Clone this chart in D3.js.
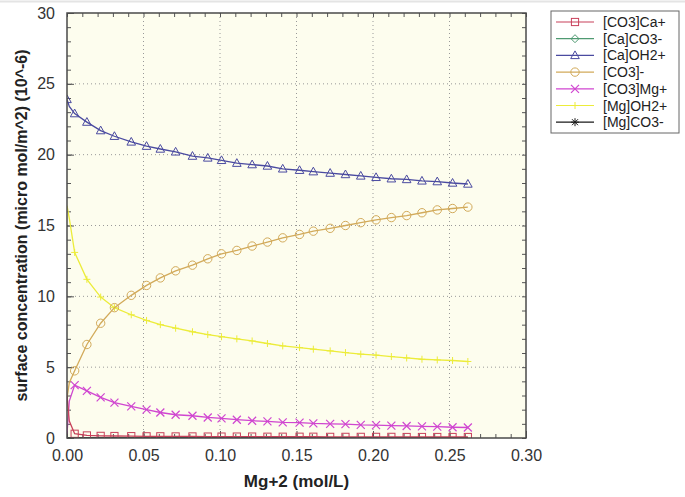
<!DOCTYPE html>
<html>
<head>
<meta charset="utf-8">
<script src="https://cdn.jsdelivr.net/npm/d3@7"></script>
<style>
  body { margin: 0; background: #fff; }
  svg { display: block; font-family: Arial, "Liberation Sans", sans-serif; }
</style>
</head>
<body>
<svg id="chart" width="685" height="497"></svg>
<script>
// Mg+2 concentration (mol/L); first two points are the unmarked start of each curve
var xs = [0, 0.0015, 0.005, 0.013, 0.022, 0.031, 0.042, 0.052, 0.061, 0.071, 0.082, 0.092, 0.101, 0.111,
          0.121, 0.131, 0.141, 0.152, 0.161, 0.172, 0.182, 0.192, 0.202, 0.212, 0.222, 0.232, 0.242, 0.252, 0.262];

var names = ["[CO3]Ca+", "[Ca]CO3-", "[Ca]OH2+", "[CO3]-", "[CO3]Mg+", "[Mg]OH2+", "[Mg]CO3-"];

var co3Ca  = [3.0, 1.2, 0.3, 0.18, 0.15, 0.14, 0.13, 0.12, 0.12, 0.11, 0.11, 0.1, 0.1, 0.1,
              0.1, 0.09, 0.09, 0.09, 0.09, 0.08, 0.08, 0.08, 0.08, 0.08, 0.07, 0.07, 0.07, 0.07, 0.07];
var caCo3  = [0, 0, 0, 0, 0, 0, 0, 0, 0, 0, 0, 0, 0, 0, 0, 0, 0, 0, 0, 0, 0, 0, 0, 0, 0, 0, 0, 0, 0];
var caOh2  = [23.9, 23.4, 22.9, 22.3, 21.7, 21.3, 20.9, 20.6, 20.4, 20.2, 19.9, 19.77, 19.6, 19.4,
              19.3, 19.2, 19.0, 18.9, 18.8, 18.7, 18.6, 18.5, 18.4, 18.3, 18.25, 18.15, 18.1, 18.0, 17.93];
var co3    = [2.8, 3.9, 4.74, 6.6, 8.1, 9.2, 10.07, 10.77, 11.3, 11.8, 12.2, 12.65, 13.0, 13.24,
              13.55, 13.83, 14.13, 14.37, 14.6, 14.8, 15.0, 15.2, 15.4, 15.56, 15.7, 15.9, 16.1, 16.2, 16.3];
var co3Mg  = [0.3, 2.6, 3.73, 3.33, 2.87, 2.5, 2.23, 2.0, 1.8, 1.64, 1.57, 1.45, 1.38, 1.29,
              1.22, 1.17, 1.1, 1.08, 1.03, 1.0, 0.98, 0.93, 0.91, 0.87, 0.85, 0.82, 0.8, 0.76, 0.74];
var mgOh2  = [16.4, 15.5, 13.1, 11.2, 9.95, 9.2, 8.7, 8.3, 8.0, 7.75, 7.5, 7.3, 7.15, 7.0,
              6.85, 6.67, 6.5, 6.38, 6.27, 6.15, 6.03, 5.92, 5.85, 5.75, 5.65, 5.56, 5.51, 5.47, 5.4];
var mgCo3  = [0, 0, 0, 0, 0, 0, 0, 0, 0, 0, 0, 0, 0, 0, 0, 0, 0, 0, 0, 0, 0, 0, 0, 0, 0, 0, 0, 0, 0];

var xTicks = [0, 0.05, 0.10, 0.15, 0.20, 0.25, 0.30];
var yTicks = [0, 5, 10, 15, 20, 25, 30];

var series = [
  {name: names[0], values: co3Ca, color: "#c8405a", marker: "square",   skip: [0, 1]},
  {name: names[1], values: caCo3, color: "#4f9a72", marker: "diamond",  skip: "all"},
  {name: names[2], values: caOh2, color: "#4a4aa0", marker: "triangle", skip: [1]},
  {name: names[3], values: co3,   color: "#d2aa5a", marker: "circle",   skip: [0, 1]},
  {name: names[4], values: co3Mg, color: "#d046d0", marker: "cross",    skip: [0, 1]},
  {name: names[5], values: mgOh2, color: "#ecec3a", marker: "plus",     skip: [0, 1]},
  {name: names[6], values: mgCo3, color: "#1a1a1a", marker: "star",     skip: "all"}
];

var margin = {top: 13, right: 159, bottom: 59, left: 67};
var svg = d3.select("#chart");
var width = +svg.attr("width"), height = +svg.attr("height");
var pw = width - margin.left - margin.right, ph = height - margin.top - margin.bottom;

var x = d3.scaleLinear().domain([0, 0.30]).range([margin.left, margin.left + pw]);
var y = d3.scaleLinear().domain([0, 30]).range([margin.top + ph, margin.top]);

// faint line at the very top of the picture
svg.append("line").attr("x1", 0).attr("x2", width).attr("y1", 1.5).attr("y2", 1.5)
   .attr("stroke", "#e4e4e4").attr("stroke-width", 2);

svg.append("rect").attr("x", margin.left).attr("y", margin.top).attr("width", pw).attr("height", ph)
   .attr("fill", "#fdfdee");

svg.append("clipPath").attr("id", "clip").append("rect")
   .attr("x", margin.left).attr("y", margin.top).attr("width", pw).attr("height", ph);

// dotted grid
svg.append("g").selectAll("line").data(xTicks.slice(1, -1)).join("line")
   .attr("x1", d => x(d)).attr("x2", d => x(d)).attr("y1", margin.top).attr("y2", margin.top + ph)
   .attr("stroke", "#999").attr("stroke-dasharray", "1,3");
svg.append("g").selectAll("line").data(yTicks.slice(1, -1)).join("line")
   .attr("y1", d => y(d)).attr("y2", d => y(d)).attr("x1", margin.left).attr("x2", margin.left + pw)
   .attr("stroke", "#999").attr("stroke-dasharray", "1,3");

// axes with inward ticks
var axisStyle = function(g) {
  g.select(".domain").remove();
  g.selectAll(".tick line").attr("stroke", "#555");
  g.selectAll("text").attr("fill", "#333").style("font-size", "16px");
};
var xMinor = d3.range(0, 31).map(d => d / 100);
var yMinor = d3.range(0, 31);

svg.append("g").attr("transform", `translate(0,${margin.top + ph})`)
   .call(d3.axisBottom(x).tickValues(xTicks).tickFormat(d3.format(".2f")).tickSizeInner(-7).tickPadding(12))
   .call(axisStyle);
svg.append("g").attr("transform", `translate(0,${margin.top + ph})`)
   .call(d3.axisBottom(x).tickValues(xMinor).tickFormat("").tickSizeInner(-4)).call(axisStyle);
svg.append("g").attr("transform", `translate(0,${margin.top})`)
   .call(d3.axisTop(x).tickValues(xMinor).tickFormat("").tickSizeInner(-4)).call(axisStyle);
svg.append("g").attr("transform", `translate(${margin.left},0)`)
   .call(d3.axisLeft(y).tickValues(yTicks).tickSizeInner(-7).tickPadding(12))
   .call(axisStyle);
svg.append("g").attr("transform", `translate(${margin.left},0)`)
   .call(d3.axisLeft(y).tickValues(yMinor).tickFormat("").tickSizeInner(-4)).call(axisStyle);
svg.append("g").attr("transform", `translate(${margin.left + pw},0)`)
   .call(d3.axisRight(y).tickValues(yMinor).tickFormat("").tickSizeInner(-4)).call(axisStyle);

// markers
function drawMarker(g, type, color) {
  var s = 3.6;
  if (type === "square") g.append("rect").attr("x", -s).attr("y", -s).attr("width", 2 * s).attr("height", 2 * s)
       .attr("fill", "none").attr("stroke", color);
  else if (type === "circle") g.append("circle").attr("r", 4.2).attr("fill", "none").attr("stroke", color);
  else if (type === "triangle") g.append("path").attr("d", "M0,-4.5L4.3,3.2L-4.3,3.2Z")
       .attr("fill", "none").attr("stroke", color);
  else if (type === "diamond") g.append("path").attr("d", "M0,-4L4,0L0,4L-4,0Z")
       .attr("fill", "none").attr("stroke", color);
  else if (type === "cross") g.append("path").attr("d", "M-4,-4L4,4M-4,4L4,-4")
       .attr("stroke", color).attr("stroke-width", 1.2);
  else if (type === "plus") g.append("path").attr("d", "M-3.5,0L3.5,0M0,-3.5L0,3.5")
       .attr("stroke", color);
  else if (type === "star") g.append("path").attr("d", "M-4,0L4,0M0,-4L0,4M-3,-3L3,3M-3,3L3,-3")
       .attr("stroke", color);
}

var line = d3.line().x((d, i) => x(xs[i])).y(d => y(d));
var plot = svg.append("g").attr("clip-path", "url(#clip)");
var drawOrder = [1, 6, 5, 4, 3, 2, 0];
drawOrder.forEach(function(k) {
  var s = series[k];
  plot.append("path").datum(s.values).attr("d", line)
      .attr("fill", "none").attr("stroke", s.color).attr("stroke-width", 1.3);
  if (s.skip === "all") return;
  s.values.forEach(function(v, i) {
    if (s.skip.indexOf(i) >= 0) return;
    var g = plot.append("g").attr("transform", `translate(${x(xs[i])},${y(v)})`);
    drawMarker(g, s.marker, s.color);
  });
});

// frame
svg.append("rect").attr("x", margin.left).attr("y", margin.top).attr("width", pw).attr("height", ph)
   .attr("fill", "none").attr("stroke", "#4a4a4a").attr("stroke-width", 1.5);

// axis titles
svg.append("text").attr("x", x(0.15)).attr("y", 487).attr("text-anchor", "middle")
   .style("font-weight", "bold").style("font-size", "17px").attr("fill", "#222")
   .text("Mg+2 (mol/L)");
svg.append("text").attr("transform", `translate(27,${margin.top + ph / 2}) rotate(-90)`)
   .attr("text-anchor", "middle").style("font-weight", "bold").style("font-size", "16px").attr("fill", "#222")
   .text("surface concentration (micro mol/m^2) (10^-6)");

// legend
var lg = svg.append("g");
lg.append("rect").attr("x", 551).attr("y", 11).attr("width", 128).attr("height", 122)
  .attr("fill", "#fff").attr("stroke", "#666");
series.forEach(function(s, i) {
  var yy = 22 + i * 16.7;
  lg.append("line").attr("x1", 556).attr("x2", 594).attr("y1", yy).attr("y2", yy)
    .attr("stroke", s.color).attr("stroke-width", 1.2);
  drawMarker(lg.append("g").attr("transform", `translate(575,${yy})`), s.marker, s.color);
  lg.append("text").attr("x", 603).attr("y", yy).attr("dy", "0.36em")
    .style("font-size", "14px").attr("fill", "#222").text(s.name);
});
</script>
</body>
</html>
